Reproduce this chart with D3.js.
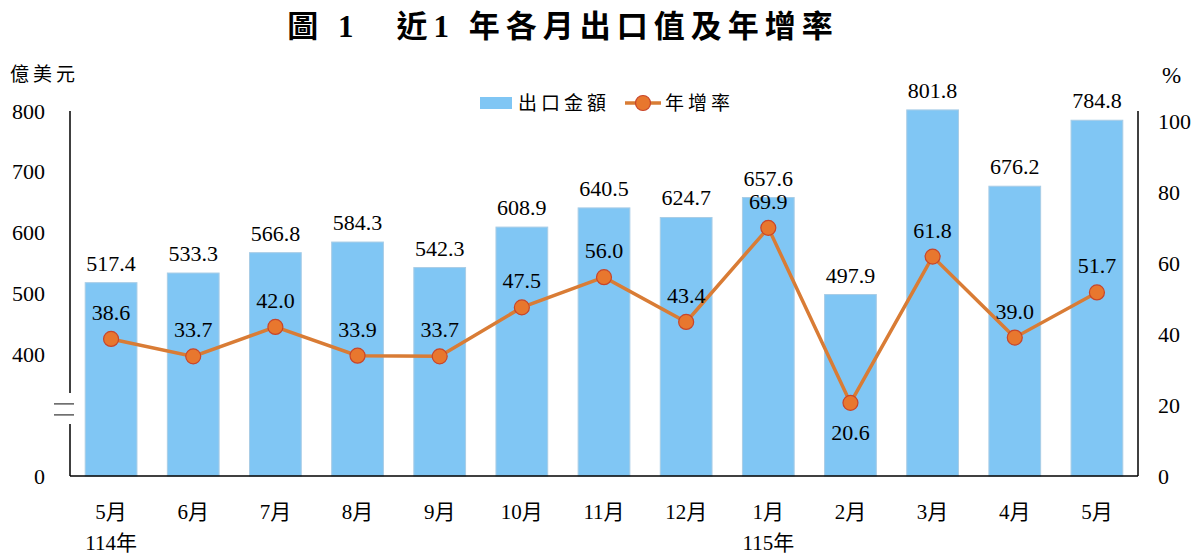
<!DOCTYPE html>
<html>
<head>
<meta charset="utf-8">
<script src="https://cdn.jsdelivr.net/npm/d3@7"></script>
<style>
  body { margin: 0; background: #fff; }
  svg text { font-family: "Liberation Serif", "Noto Sans CJK TC", serif; fill: #000; }
</style>
</head>
<body>
<div id="chart"></div>
<script>
// 資料
const months = ['5月', '6月', '7月', '8月', '9月', '10月', '11月', '12月', '1月', '2月', '3月', '4月', '5月'];
const yearLabels = ['114年', '', '', '', '', '', '', '', '115年', '', '', '', ''];
const exportValues = [517.4, 533.3, 566.8, 584.3, 542.3, 608.9, 640.5, 624.7, 657.6, 497.9, 801.8, 676.2, 784.8];
const growthRates = [38.6, 33.7, 42.0, 33.9, 33.7, 47.5, 56.0, 43.4, 69.9, 20.6, 61.8, 39.0, 51.7];
const leftTicks = [0, 400, 500, 600, 700, 800];
const rightTicks = [0, 20, 40, 60, 80, 100];
const breakValue = 220;

const width = 1200, height = 557;
const plot = {left: 70, right: 1138, top: 111, bottom: 476};

const svg = d3.select('#chart').append('svg')
    .attr('width', width)
    .attr('height', height);

// 標題
svg.append('text')
    .attr('x', 563)
    .attr('y', 37)
    .attr('text-anchor', 'middle')
    .style('font-size', '31px')
    .style('font-weight', 'bold')
    .style('letter-spacing', '6px')
    .text('圖 1　近1 年各月出口值及年增率');

// 比例尺
const x = d3.scaleBand()
    .domain(d3.range(months.length))
    .range([plot.left, plot.right])
    .paddingInner(0.37)
    .paddingOuter(0.185);

// 左軸有截斷：0~400 壓縮
const yLeft = d3.scaleLinear()
    .domain([0, 400, 800])
    .range([plot.bottom, 354, plot.top]);

const yRight = d3.scaleLinear()
    .domain([0, 100])
    .range([plot.bottom, 121]);

// 長條
svg.selectAll('.bar')
    .data(exportValues)
    .enter()
    .append('rect')
    .attr('class', 'bar')
    .attr('x', (d, i) => x(i))
    .attr('y', d => yLeft(d))
    .attr('width', x.bandwidth())
    .attr('height', d => plot.bottom - yLeft(d))
    .attr('fill', '#80c6f4')
    .attr('stroke', '#a9cde6')
    .attr('stroke-width', 1);

// 長條數值
svg.selectAll('.bar-label')
    .data(exportValues)
    .enter()
    .append('text')
    .attr('x', (d, i) => x(i) + x.bandwidth() / 2)
    .attr('y', d => yLeft(d) - 12)
    .attr('text-anchor', 'middle')
    .style('font-size', '22px')
    .text(d => d.toFixed(1));

// 座標軸線
const axisColor = '#000';
svg.append('line')
    .attr('x1', plot.left).attr('x2', plot.right)
    .attr('y1', plot.bottom).attr('y2', plot.bottom)
    .attr('stroke', axisColor).attr('stroke-width', 1.5);

// 左軸（含截斷）
svg.append('line')
    .attr('x1', plot.left).attr('x2', plot.left)
    .attr('y1', yLeft(800)).attr('y2', yLeft(breakValue) - 16)
    .attr('stroke', axisColor).attr('stroke-width', 1.5);
svg.append('line')
    .attr('x1', plot.left).attr('x2', plot.left)
    .attr('y1', yLeft(breakValue) + 15).attr('y2', plot.bottom)
    .attr('stroke', axisColor).attr('stroke-width', 1.5);
[-5, 6].forEach(off => {
    svg.append('line')
        .attr('x1', plot.left - 16).attr('x2', plot.left + 4)
        .attr('y1', yLeft(breakValue) + off).attr('y2', yLeft(breakValue) + off)
        .attr('stroke', '#333').attr('stroke-width', 1.2);
});

// 右軸
svg.append('line')
    .attr('x1', plot.right).attr('x2', plot.right)
    .attr('y1', plot.top).attr('y2', plot.bottom)
    .attr('stroke', axisColor).attr('stroke-width', 1.5);

// 刻度標籤
svg.selectAll('.left-tick')
    .data(leftTicks)
    .enter()
    .append('text')
    .attr('x', 45)
    .attr('y', d => yLeft(d))
    .attr('dy', '0.35em')
    .attr('text-anchor', 'end')
    .style('font-size', '22px')
    .text(d => d);

svg.selectAll('.right-tick')
    .data(rightTicks)
    .enter()
    .append('text')
    .attr('x', 1158)
    .attr('y', d => yRight(d))
    .attr('dy', '0.35em')
    .attr('text-anchor', 'start')
    .style('font-size', '22px')
    .text(d => d);

// 單位
svg.append('text')
    .attr('x', 10).attr('y', 81)
    .style('font-size', '19px')
    .style('letter-spacing', '4px')
    .text('億美元');

svg.append('text')
    .attr('x', 1162).attr('y', 83)
    .style('font-size', '23px')
    .text('%');

// X 軸標籤
svg.selectAll('.month-label')
    .data(months)
    .enter()
    .append('text')
    .attr('x', (d, i) => x(i) + x.bandwidth() / 2)
    .attr('y', 519)
    .attr('text-anchor', 'middle')
    .style('font-size', '21px')
    .text(d => d);

svg.selectAll('.year-label')
    .data(yearLabels)
    .enter()
    .append('text')
    .attr('x', (d, i) => x(i) + x.bandwidth() / 2)
    .attr('y', 550)
    .attr('text-anchor', 'middle')
    .style('font-size', '21px')
    .text(d => d);

// 年增率折線
const lineColor = '#d97c35';
const line = d3.line()
    .x((d, i) => x(i) + x.bandwidth() / 2)
    .y(d => yRight(d));

svg.append('path')
    .datum(growthRates)
    .attr('d', line)
    .attr('fill', 'none')
    .attr('stroke', lineColor)
    .attr('stroke-width', 3.5);

svg.selectAll('.dot')
    .data(growthRates)
    .enter()
    .append('circle')
    .attr('cx', (d, i) => x(i) + x.bandwidth() / 2)
    .attr('cy', d => yRight(d))
    .attr('r', 7.5)
    .attr('fill', '#e8772e')
    .attr('stroke', '#c8452a')
    .attr('stroke-width', 1.2);

// 年增率數值（最低點標在下方）
const minRate = d3.min(growthRates);
svg.selectAll('.rate-label')
    .data(growthRates)
    .enter()
    .append('text')
    .attr('x', (d, i) => x(i) + x.bandwidth() / 2)
    .attr('y', d => d === minRate ? yRight(d) + 37 : yRight(d) - 19)
    .attr('text-anchor', 'middle')
    .style('font-size', '22px')
    .text(d => d.toFixed(1));

// 圖例
const legend = svg.append('g').attr('transform', 'translate(480,103)');
legend.append('rect')
    .attr('x', 0).attr('y', -6)
    .attr('width', 32).attr('height', 12)
    .attr('fill', '#80c6f4');
legend.append('text')
    .attr('x', 38).attr('y', 0)
    .attr('dy', '0.35em')
    .style('font-size', '19px')
    .style('letter-spacing', '4px')
    .text('出口金額');
legend.append('line')
    .attr('x1', 145).attr('x2', 181)
    .attr('y1', 0).attr('y2', 0)
    .attr('stroke', lineColor)
    .attr('stroke-width', 3.5);
legend.append('circle')
    .attr('cx', 163).attr('cy', 0).attr('r', 7.5)
    .attr('fill', '#e8772e')
    .attr('stroke', '#c8452a')
    .attr('stroke-width', 1.2);
legend.append('text')
    .attr('x', 185).attr('y', 0)
    .attr('dy', '0.35em')
    .style('font-size', '19px')
    .style('letter-spacing', '4px')
    .text('年增率');
</script>
</body>
</html>
